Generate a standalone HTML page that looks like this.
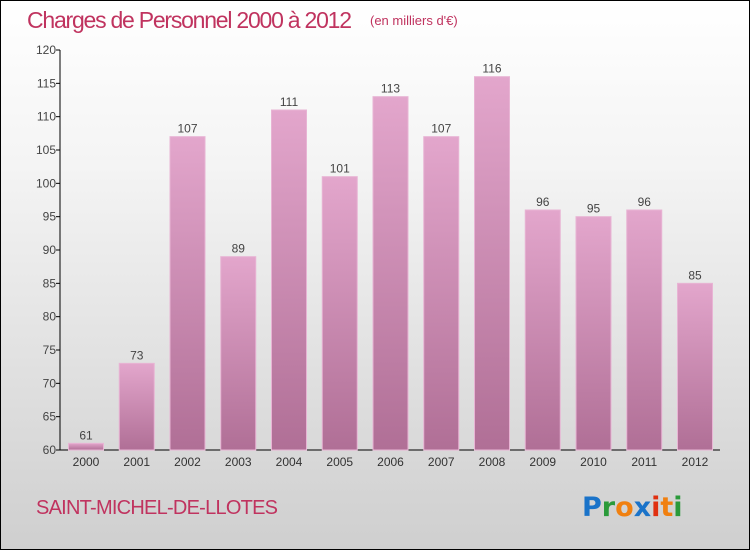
<!DOCTYPE html>
<html><head><meta charset="utf-8"><style>
body{margin:0;}
#c{width:750px;height:550px;position:relative;overflow:hidden;box-sizing:border-box;border:1px solid #000;background:linear-gradient(#fff,#f4f4f4 30%,#cfcfcf);font-family:"Liberation Sans",sans-serif;}
</style></head><body>
<div id="c">
<svg id="s" width="750" height="550" style="position:absolute;left:-1px;top:-1px">
<defs><linearGradient id="g" x1="0" y1="0" x2="0" y2="1"><stop offset="0" stop-color="#e3a6cc"/><stop offset="1" stop-color="#b06f96"/></linearGradient></defs>
<text x="27" y="28" font-size="23" fill="#c0335f" font-weight="300" textLength="325">Charges de Personnel 2000 à 2012</text>
<text x="370" y="25" font-size="13" fill="#c0335f">(en milliers d'€)</text>
<text x="36" y="514" font-size="20" fill="#c0335f" textLength="242">SAINT-MICHEL-DE-LLOTES</text>
<g font-size="27" font-weight="bold" font-family="'DejaVu Sans',sans-serif">
<text x="582" y="516"><tspan fill="#1a73c9">P</tspan><tspan fill="#2a9a3a">r</tspan><tspan fill="#f08010">o</tspan><tspan fill="#1a73c9">x</tspan><tspan fill="#e03010">i</tspan><tspan fill="#f08010">t</tspan><tspan fill="#2a9a3a">i</tspan></text></g>
<g id="axes"></g><g id="bars"></g>
</svg>
</div>
<script>
const categories=["2000","2001","2002","2003","2004","2005","2006","2007","2008","2009","2010","2011","2012"];
const values=[61,73,107,89,111,101,113,107,116,96,95,96,85];
const yTicks=[60,65,70,75,80,85,90,95,100,105,110,115,120];
const NS="http://www.w3.org/2000/svg";
const x0=60,yMin=60,yMax=120,plotTop=50,plotBot=450;
function y(v){return plotBot-(v-yMin)/(yMax-yMin)*(plotBot-plotTop);}
function xc(i){return 86+i*50.75;}
function mk(t,a,p){const e=document.createElementNS(NS,t);for(const k in a)e.setAttribute(k,a[k]);p.appendChild(e);return e;}
const ax=document.getElementById('axes'),bs=document.getElementById('bars');
const yl=mk('line',{x1:x0,y1:plotTop,x2:x0,y2:plotBot,stroke:'#000'},ax);


const xl=mk('line',{x1:x0,y1:plotBot,x2:720,y2:plotBot,stroke:'#000'},ax);


yTicks.forEach(v=>{
 mk('line',{x1:x0-4,y1:y(v),x2:x0,y2:y(v),stroke:'#000'},ax);
 const t=mk('text',{x:x0-4,y:y(v)+4,'text-anchor':'end','font-size':12,fill:'#444'},ax);
 t.textContent=v;
 
 
});
categories.forEach((c,i)=>{
 const t=mk('text',{x:xc(i),y:plotBot+16,'text-anchor':'middle','font-size':12,fill:'#333'},ax);
 t.textContent=c;
 
 
 const v=values[i];
 const r=mk('rect',{x:xc(i)-17.5,y:y(v),width:35,height:plotBot-y(v),fill:'url(#g)',stroke:'#e8b4d4','stroke-width':1},bs);
 
 
 const l=mk('text',{x:xc(i),y:y(v)-4,'text-anchor':'middle','font-size':12,fill:'#444'},bs);
 l.textContent=v;
 
 
});
</script>
</body></html>
